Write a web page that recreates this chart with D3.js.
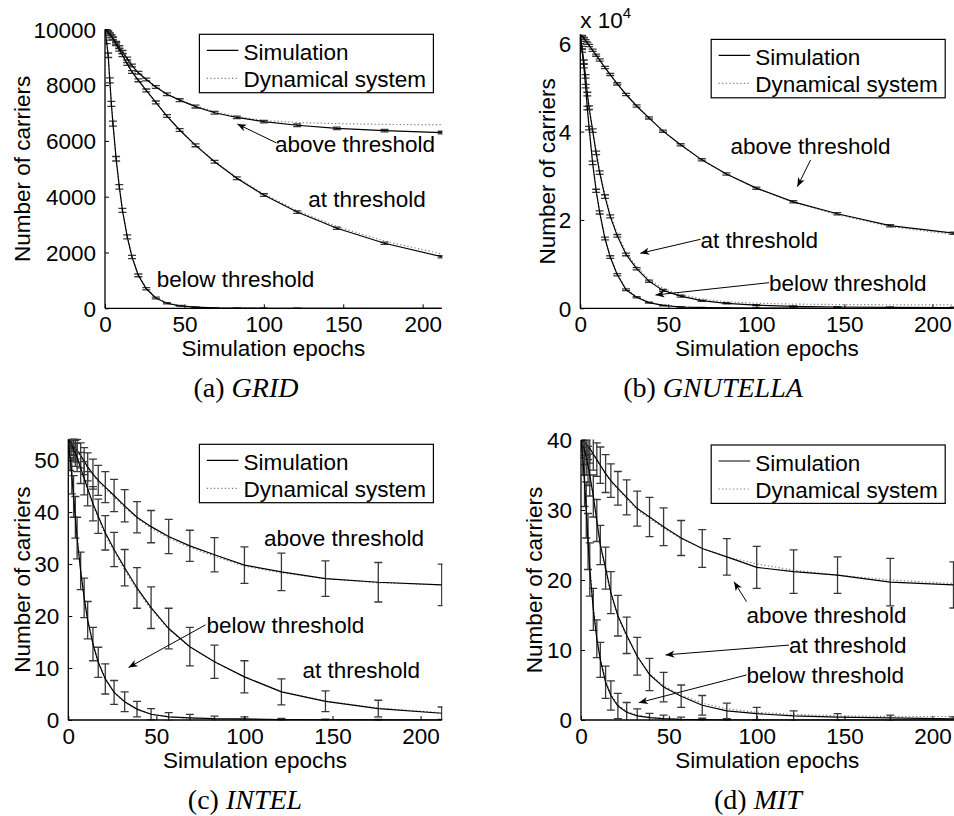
<!DOCTYPE html>
<html><head><meta charset="utf-8">
<script src="https://cdn.jsdelivr.net/npm/d3@7"></script>
<style>body{margin:0;background:#fff}svg{display:block}</style>
</head><body>
<svg id="chart" width="954" height="816"></svg>
<script>
// ---------- data ----------
const epochs = [0,1,2,3,4,5,7,9,11,14,17,21,26,32,39,47,57,69,83,100,121,146,176,212];
const xTickValues = [0,50,100,150,200];

// (a) GRID
const gridYTicks = [0,2000,4000,6000,8000,10000];
const gridAboveSim = [10000,9950,9890,9820,9750,9680,9520,9360,9190,8950,8700,8440,8200,7930,7670,7460,7230,7010,6840,6690,6560,6450,6370,6300];
const gridAboveDyn = [10000,9950,9890,9820,9750,9680,9520,9360,9190,8950,8700,8440,8200,7940,7690,7480,7260,7050,6870,6730,6660,6620,6590,6580];
const gridAboveErr = [0,30,40,45,50,50,50,50,50,50,50,50,50,50,50,50,50,50,45,45,45,45,45,45];
const gridAtSim = [10000,9960,9900,9830,9750,9660,9470,9270,9070,8760,8470,8170,7810,7380,6890,6390,5840,5250,4660,4060,3450,2870,2330,1850];
const gridAtDyn = [10000,9960,9900,9830,9750,9660,9470,9270,9070,8760,8470,8170,7810,7380,6900,6400,5860,5270,4690,4100,3500,2930,2410,1950];
const gridAtErr = [0,30,40,45,50,50,50,50,50,50,50,50,50,50,50,50,50,50,50,45,45,40,40,40];
const gridBelowSim = [10000,9550,9070,8170,7330,6620,5360,4350,3510,2560,1840,1180,700,370,180,90,40,15,6,2,1,0,0,0];
const gridBelowDyn = [10000,9600,9100,8200,7380,6650,5400,4380,3550,2600,1870,1200,720,380,190,95,42,16,6,2,1,0,0,0];
const gridBelowErr = [0,60,80,90,90,90,80,80,70,70,60,50,40,30,20,15,10,5,3,2,1,0,0,0];

// (b) GNUTELLA
const gnutellaYTicks = [0,20000,40000,60000];
const gnutellaAboveSim = [62000,61600,61100,60600,60000,59500,58400,57300,56200,54500,52900,50800,48400,45800,43100,40100,37000,33600,30400,27200,24100,21400,18700,17000];
const gnutellaAboveDyn = [62000,61600,61100,60600,60000,59500,58400,57300,56200,54500,52900,50800,48400,45800,43100,40100,37000,33600,30400,27100,24000,21200,18500,16700];
const gnutellaAboveErr = [0,150,200,200,250,250,250,250,250,250,250,250,250,250,250,250,250,250,250,250,250,250,250,250];
const gnutellaAtSim = [62000,59000,55800,52500,48500,45400,40200,35200,30700,25300,20800,16400,12200,8970,6150,4050,2750,1720,1130,700,450,300,200,150];
const gnutellaAtDyn = [62000,59200,56000,52700,48800,45700,40500,35600,31200,25800,21300,16900,12700,9400,6600,4500,3100,2100,1500,1150,950,850,800,780];
const gnutellaAtErr = [0,300,400,400,400,400,400,400,400,400,350,300,300,250,250,200,200,150,150,100,100,100,100,100];
const gnutellaBelowSim = [62000,58300,54800,50300,45300,40800,32900,26600,21700,15800,11600,7600,4200,2500,1300,650,300,150,80,40,20,10,5,0];
const gnutellaBelowDyn = [62000,58600,55000,50500,45500,41000,33200,26900,21900,16000,11800,7800,4400,2600,1400,700,320,160,80,40,20,10,5,0];
const gnutellaBelowErr = [0,300,400,400,400,400,400,350,350,300,300,250,200,150,100,80,50,30,20,10,5,0,0,0];

// (c) INTEL
const intelYTicks = [0,10,20,30,40,50];
const intelAboveSim = [54,53.6,53.2,52.7,52.2,51.8,50.9,49.8,48.7,47.3,46.1,44.8,43.2,41.2,39.0,37.2,35.3,33.5,31.8,29.8,28.5,27.2,26.5,26.0];
const intelAboveDyn = [54,53.6,53.1,52.6,52.1,51.6,50.7,49.6,48.5,47.1,45.8,44.5,42.9,40.9,38.8,36.9,35.0,33.2,31.5,29.6,28.3,27.2,26.4,26.0];
const intelAboveErr = [0,1.0,1.5,1.8,2.0,2.2,2.4,2.6,2.7,2.9,2.9,3.0,3.1,3.1,3.0,3.1,3.3,3.0,3.3,3.5,3.6,3.4,3.8,4.0];
const intelAtSim = [54,53.4,52.8,52.0,51.3,50.5,48.5,46.5,44.5,41.6,39.2,36.0,32.8,29.3,25.4,21.6,17.6,14.1,11.2,8.3,5.4,3.6,2.2,1.3];
const intelAtDyn = [54,53.4,52.7,51.9,51.1,50.3,48.3,46.2,44.2,41.3,38.8,35.6,32.4,28.9,25.0,21.3,17.4,14.0,11.2,8.3,5.5,3.7,2.3,1.4];
const intelAtErr = [0,1.2,1.8,2.2,2.5,2.7,3.0,3.2,3.3,3.3,3.3,3.3,3.3,3.5,3.9,4.0,3.9,3.7,3.2,3.1,2.5,2.0,1.6,1.2];
const intelBelowSim = [54,50.5,47,43,39,35,28.7,23.5,19.2,14.6,11.1,7.9,5.3,3.5,2.1,1.1,0.6,0.4,0.25,0.2,0.1,0.05,0.02,0];
const intelBelowDyn = [54,50.8,47.3,43.3,39.2,35.3,29.0,23.8,19.5,14.9,11.3,8.0,5.3,3.4,2.0,1.1,0.6,0.3,0.2,0.1,0.05,0.02,0.01,0];
const intelBelowErr = [0,2.5,3.5,4.0,4.0,4.0,3.6,3.8,3.6,3.2,2.9,2.9,2.3,1.9,1.5,1.1,0.8,0.7,0.5,0.4,0.2,0.1,0.1,0];

// (d) MIT
const mitYTicks = [0,10,20,30,40];
const mitAboveSim = [40,39.8,39.6,39.4,39.1,38.8,38.0,37.2,36.4,35.2,34.2,33.1,31.8,30.2,29.0,27.6,26.0,24.5,23.3,21.8,21.2,20.7,19.7,19.3];
const mitAboveDyn = [40,39.8,39.6,39.3,39.0,38.7,37.9,37.1,36.3,35.1,34.0,32.9,31.6,30.0,28.8,27.4,25.9,24.5,23.3,22.3,21.4,20.7,20.0,19.5];
const mitAboveErr = [0,0.8,1.2,1.6,1.9,2.1,2.3,2.4,2.6,2.7,2.4,2.4,2.5,2.5,2.8,2.7,2.5,2.7,2.6,3.0,3.1,2.6,3.4,3.3];
const mitAtSim = [40,39.3,38.5,37.5,36.3,35.0,32.0,28.5,25.0,21.7,18.2,14.9,12.1,9.1,6.5,4.7,3.4,2.1,1.3,0.9,0.6,0.4,0.3,0.15];
const mitAtDyn = [40,39.3,38.4,37.4,36.2,34.8,31.7,28.2,24.8,21.3,17.9,14.6,11.9,9.1,6.6,4.9,3.6,2.4,1.6,1.1,0.8,0.6,0.5,0.5];
const mitAtErr = [0,1.5,2.0,2.5,2.8,3.0,3.0,3.0,2.8,3.0,3.0,2.9,2.6,2.7,2.3,2.1,1.6,1.4,1.1,0.9,0.7,0.5,0.4,0.3];
const mitBelowSim = [40,37.5,34,30,25.5,21.5,15.8,11.6,8.6,5.4,3.5,2.0,1.1,0.6,0.35,0.2,0.1,0.05,0,0,0,0,0,0];
const mitBelowDyn = [40,37.8,34.3,30.3,26,22,16.3,12.0,8.9,5.7,3.7,2.2,1.2,0.7,0.4,0.2,0.1,0.05,0.02,0,0,0,0,0];
const mitBelowErr = [0,2.5,3.5,4.0,4.0,3.8,3.0,2.7,2.5,2.3,2.1,1.8,1.4,1.0,0.6,0.5,0.3,0.2,0.1,0.05,0,0,0,0];

const legendLabels = ["Simulation","Dynamical system"];
const xLabel = "Simulation epochs";
const yLabel = "Number of carriers";

// ---------- layout ----------
const FONT = "'Liberation Sans', Arial, Helvetica, sans-serif";
const SERIF = "'Liberation Serif', 'Times New Roman', serif";
const FS = 22.5;

const panels = [
  {id:"a", cap:"(a) ", capIt:"GRID", capX:246, capY:397,
   rect:{l:105,r:441.7,t:29.3,b:308.3}, yMax:10000, yTicks:gridYTicks, fmt:d=>String(d), ylabX:29.7,
   series:[[gridAboveSim,gridAboveErr,gridAboveDyn],[gridAtSim,gridAtErr,gridAtDyn],[gridBelowSim,gridBelowErr,gridBelowDyn]],
   notes:[{t:"above threshold",x:107,y:5613,arrow:[[107.7,5935],[83.3,6606]]},
          {t:"at threshold",x:128,y:3620},
          {t:"below threshold",x:32.6,y:774}]},
  {id:"b", cap:"(b) ", capIt:"GNUTELLA", capX:713, capY:397,
   rect:{l:580.3,r:953.5,t:34.4,b:308.3}, yMax:62000, yTicks:gnutellaYTicks, fmt:d=>String(d/10000), ylabX:555, expo:true,
   series:[[gnutellaAboveSim,gnutellaAboveErr,gnutellaAboveDyn],[gnutellaAtSim,gnutellaAtErr,gnutellaAtDyn],[gnutellaBelowSim,gnutellaBelowErr,gnutellaBelowDyn]],
   notes:[{t:"above threshold",x:85.3,y:34930,arrow:[[130.8,33570],[123.3,27530]]},
          {t:"at threshold",x:68.3,y:13580,arrow:[[68.3,15620],[34.1,12450]]},
          {t:"below threshold",x:107.2,y:3985,arrow:[[107.2,5800],[42.7,3010]]}]},
  {id:"c", cap:"(c) ", capIt:"INTEL", capX:245, capY:809,
   rect:{l:68.3,r:441.7,t:439.3,b:720}, yMax:54, yTicks:intelYTicks, fmt:d=>String(d), ylabX:29.7,
   series:[[intelAboveSim,intelAboveErr,intelAboveDyn],[intelAtSim,intelAtErr,intelAtDyn],[intelBelowSim,intelBelowErr,intelBelowDyn]],
   notes:[{t:"above threshold",x:111.1,y:33.5},
          {t:"below threshold",x:78.5,y:16.7,arrow:[[77.9,18.3],[34.2,10.1]]},
          {t:"at threshold",x:133,y:8.0}]},
  {id:"d", cap:"(d) ", capIt:"MIT", capX:758, capY:809,
   rect:{l:581,r:953.5,t:440,b:720}, yMax:40, yTicks:mitYTicks, fmt:d=>String(d), ylabX:541.7,
   series:[[mitAboveSim,mitAboveErr,mitAboveDyn],[mitAtSim,mitAtErr,mitAtDyn],[mitBelowSim,mitBelowErr,mitBelowDyn]],
   notes:[{t:"above threshold",x:94.2,y:13.9,arrow:[[94.2,16.9],[87.1,19.76]]},
          {t:"at threshold",x:118.4,y:9.6,arrow:[[118.4,10.7],[48.1,9.3]]},
          {t:"below threshold",x:94.2,y:5.24,arrow:[[94.2,6.43],[32.9,2.47]]}]}
];

const svg = d3.select("#chart");
const defs = svg.append("defs");
defs.append("marker").attr("id","arrowhead").attr("viewBox","-10 -5 12 10")
  .attr("refX",0).attr("refY",0).attr("markerWidth",12).attr("markerHeight",10)
  .attr("markerUnits","userSpaceOnUse").attr("orient","auto")
  .append("path").attr("d","M0,0 L-9,-3.6 L-6.5,0 L-9,3.6 Z").attr("fill","#000");

panels.forEach(p => {
  const R = p.rect;
  const x = d3.scaleLinear().domain([0,212]).range([R.l,R.r]);
  const y = d3.scaleLinear().domain([0,p.yMax]).range([R.b,R.t]);
  const g = svg.append("g");

  defs.append("clipPath").attr("id","clip-"+p.id).append("rect")
    .attr("x",R.l).attr("y",R.t-0.5).attr("width",R.r-R.l+0.8).attr("height",R.b-R.t+1);

  const plot = g.append("g").attr("clip-path","url(#clip-"+p.id+")");
  const lineGen = arr => d3.line().x((d,i)=>x(epochs[i])).y(d=>y(d))(arr);

  p.series.forEach(([sim,err,dyn]) => {
    plot.append("path").attr("d",lineGen(dyn)).attr("fill","none")
      .attr("stroke","#7a7a7a").attr("stroke-width",1.2).attr("stroke-dasharray","1.2,2.4");
    const eb = plot.append("g").attr("stroke","#383838").attr("stroke-width",1.3);
    sim.forEach((v,i) => {
      const e = err[i];
      if (!e) return;
      const cx = x(epochs[i]), y1 = y(v-e), y2 = y(v+e);
      eb.append("line").attr("x1",cx).attr("x2",cx).attr("y1",y1).attr("y2",y2);
      eb.append("line").attr("x1",cx-4).attr("x2",cx+4).attr("y1",y1).attr("y2",y1);
      eb.append("line").attr("x1",cx-4).attr("x2",cx+4).attr("y1",y2).attr("y2",y2);
    });
    plot.append("path").attr("d",lineGen(sim)).attr("fill","none")
      .attr("stroke","#000").attr("stroke-width",1.2);
  });

  const xAxis = d3.axisBottom(x).tickValues(xTickValues).tickSize(-4).tickPadding(8).tickFormat(d=>d);
  const gx = g.append("g").attr("transform",`translate(0,${R.b})`).call(xAxis);
  const yAxis = d3.axisLeft(y).tickValues(p.yTicks).tickSize(-4).tickPadding(9).tickFormat(p.fmt);
  const gy = g.append("g").attr("transform",`translate(${R.l},0)`).call(yAxis);
  [gx,gy].forEach(a => {
    a.select(".domain").attr("stroke","#000").attr("stroke-width",1.3);
    a.selectAll(".tick line").attr("stroke","#000").attr("stroke-width",1);
    a.selectAll(".tick text").attr("font-family",FONT).attr("font-size",FS).attr("fill","#000");
  });
  gx.selectAll(".tick text").attr("dy","0.71em").attr("y",8);
  gy.selectAll(".tick text").attr("dy","0.35em");
  gx.select(".domain").attr("d",`M${R.l},0H${R.r}`);
  gy.select(".domain").attr("d",`M0,${R.b}V${R.t}`);

  if (p.expo) {
    const t = g.append("text").attr("x",R.l).attr("y",R.t-6)
      .attr("font-family",FONT).attr("font-size",FS).attr("fill","#000");
    t.append("tspan").text("x 10");
    t.append("tspan").text("4").attr("font-size",15).attr("dy",-10);
  }

  g.append("text").attr("x",(R.l+R.r)/2).attr("y",R.b+47.5).attr("text-anchor","middle")
    .attr("font-family",FONT).attr("font-size",FS).attr("fill","#000").text(xLabel);
  g.append("text").attr("transform",`translate(${p.ylabX},${(R.t+R.b)/2}) rotate(-90)`)
    .attr("text-anchor","middle").attr("font-family",FONT).attr("font-size",FS).attr("fill","#000").text(yLabel);

  const lw = 234, lh = 58.4, lx = R.r - 8.3 - lw, ly = R.t + 5;
  const lg = g.append("g").attr("transform",`translate(${lx},${ly})`);
  lg.append("rect").attr("width",lw).attr("height",lh).attr("fill","#fff").attr("stroke","#000").attr("stroke-width",1.2);
  lg.append("line").attr("x1",7.4).attr("x2",39).attr("y1",16).attr("y2",16).attr("stroke","#000").attr("stroke-width",1.2);
  lg.append("line").attr("x1",7.4).attr("x2",39).attr("y1",44).attr("y2",44).attr("stroke","#7a7a7a")
    .attr("stroke-width",1.2).attr("stroke-dasharray","1.2,2.4");
  lg.append("text").attr("x",44).attr("y",26).attr("font-family",FONT).attr("font-size",FS).text(legendLabels[0]);
  lg.append("text").attr("x",44).attr("y",52.6).attr("font-family",FONT).attr("font-size",FS).text(legendLabels[1]);

  p.notes.forEach(n => {
    g.append("text").attr("x",x(n.x)).attr("y",y(n.y)).attr("font-family",FONT)
      .attr("font-size",FS).attr("fill","#000").text(n.t);
    if (n.arrow) {
      g.append("line").attr("x1",x(n.arrow[0][0])).attr("y1",y(n.arrow[0][1]))
        .attr("x2",x(n.arrow[1][0])).attr("y2",y(n.arrow[1][1]))
        .attr("stroke","#000").attr("stroke-width",1).attr("marker-end","url(#arrowhead)");
    }
  });

  const c = svg.append("text").attr("x",p.capX).attr("y",p.capY).attr("text-anchor","middle")
    .attr("font-family",SERIF).attr("font-size",28).attr("fill","#000");
  c.append("tspan").text(p.cap);
  c.append("tspan").attr("font-style","italic").text(p.capIt);
});
</script>
</body></html>
